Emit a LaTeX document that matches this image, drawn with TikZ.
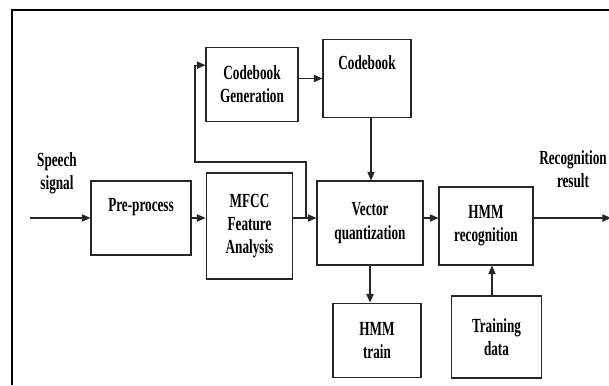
\documentclass[tikz,border=0pt]{standalone}
\usepackage{fontspec}
\setmainfont{Liberation Serif}[FakeStretch=0.66]
\usetikzlibrary{arrows.meta}

\tikzset{
  blk/.style={draw=black!85, line width=0.8pt, align=center, inner sep=0pt,
    font=\fontsize{15}{17.4}\selectfont\bfseries},
  lbl/.style={align=center, inner sep=0pt, font=\fontsize{15}{17.4}\selectfont\bfseries},
  arr/.style={draw=black!85, line width=0.8pt, -{Triangle[length=6.5pt,width=5.5pt]}},
  ln/.style={draw=black!85, line width=0.8pt}
}

\begin{document}
\begin{tikzpicture}[x=0.75pt,y=0.75pt,yscale=-1,xscale=1]
\useasboundingbox (0,0) rectangle (609,385);

% frame
\draw [line width=1.3pt] (12,385) -- (12,10) -- (609,10) ;

% blocks
\node [blk, minimum width=69pt, minimum height=56pt] (cbgen) at (252,84.5) {Codebook\\Generation};
\node [blk, minimum width=66pt, minimum height=58pt] (cb) at (367,78.5) {Codebook\\[6pt]};
\node [blk, minimum width=75pt, minimum height=55.5pt] (pre) at (141,218) {Pre-process\\[2pt]};
\node [blk, minimum width=65pt, minimum height=79.5pt] (mfcc) at (249.5,226) {MFCC\\Feature\\Analysis};
\node [blk, minimum width=79.5pt, minimum height=63pt] (vq) at (370,223) {Vector\\quantization};
\node [blk, minimum width=70.5pt, minimum height=58.5pt] (hmmrec) at (486,226) {HMM\\recognition};
\node [blk, minimum width=66pt, minimum height=56pt] (hmmtrain) at (377,340.5) {HMM\\train};
\node [blk, minimum width=68pt, minimum height=61.5pt] (train) at (496.5,337) {Training\\data};

% text labels
\node [lbl] (speech) at (57,173) {Speech\\signal};
\node [lbl] (result) at (573,169) {Recognition\\result};

% free ends
\coordinate (in) at (30,218);
\coordinate (out) at (611,218);
\coordinate (fb) at (306,218);
\coordinate (fbtop) at (306,162);
\coordinate (fbleft) at (195,162);

% connectors
\draw [arr] (in) -- (pre.west |- in);
\draw [arr] (pre.east |- in) -- (mfcc.west |- in);
\draw [arr] (mfcc.east |- in) -- (vq.west |- in);
\draw [arr] (fb) -- (fbtop) -- (fbleft) |- ([yshift=-14.5pt]cbgen.west);
\draw [arr] (cbgen.east |- cb.west) -- (cb.west);
\draw [arr] ([xshift=3pt]cb.south) -- ([xshift=3pt]cb.south |- vq.north);
\draw [arr] (vq.east |- in) -- (hmmrec.west |- in);
\draw [arr] (hmmrec.east |- in) -- (out);
\draw [arr] (vq.south) -- (vq.south |- hmmtrain.north);
\draw [arr] ([xshift=-3.4pt]train.north) -- ([xshift=-3.4pt]train.north |- hmmrec.south);

\end{tikzpicture}
\end{document}
